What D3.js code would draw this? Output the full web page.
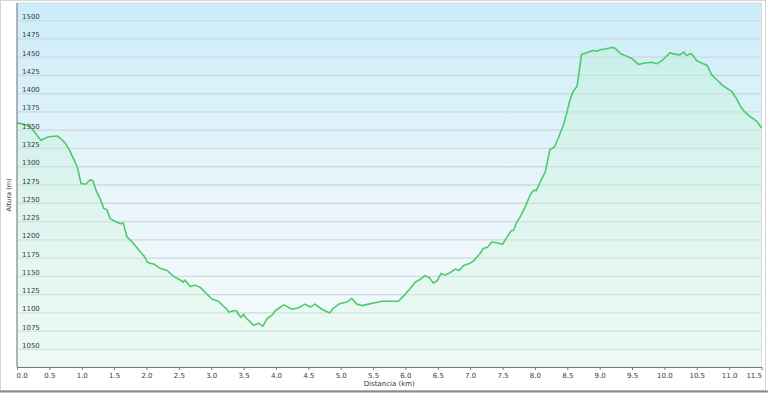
<!DOCTYPE html>
<html>
<head>
<meta charset="utf-8">
<script src="https://cdn.jsdelivr.net/npm/d3@7"></script>
<style>
  html, body { margin: 0; padding: 0; background: #fff; }
  #chart { width: 768px; height: 394px; }
  text { font-family: "DejaVu Sans", Verdana, sans-serif; }
</style>
</head>
<body>
<div id="chart"></div>
<script>
// perfil: distancia (km) / altura (m)
const distKm = [
  0.00, 0.15, 0.21, 0.26, 0.31, 0.37, 0.41, 0.49, 0.62, 0.67, 0.75, 0.82, 0.93, 0.99,
  1.06, 1.13, 1.17, 1.22, 1.29, 1.34, 1.39, 1.44, 1.52, 1.60, 1.64, 1.70, 1.80, 1.90,
  1.97, 2.01, 2.05, 2.11, 2.21, 2.32, 2.42, 2.52, 2.57, 2.59, 2.68, 2.75, 2.83, 3.01,
  3.11, 3.24, 3.27, 3.34, 3.39, 3.42, 3.46, 3.50, 3.55, 3.60, 3.65, 3.73, 3.80, 3.86,
  3.94, 3.99, 4.12, 4.25, 4.35, 4.45, 4.53, 4.60, 4.71, 4.83, 4.88, 4.99, 5.10, 5.17,
  5.25, 5.33, 5.43, 5.53, 5.64, 5.89, 5.97, 6.07, 6.15, 6.23, 6.30, 6.37, 6.43, 6.49,
  6.55, 6.61, 6.69, 6.77, 6.83, 6.90, 7.00, 7.05, 7.15, 7.20, 7.27, 7.33, 7.41, 7.50,
  7.57, 7.63, 7.67, 7.72, 7.77, 7.85, 7.93, 7.98, 8.02, 8.08, 8.16, 8.23, 8.30, 8.36,
  8.44, 8.49, 8.54, 8.59, 8.65, 8.68, 8.72, 8.77, 8.83, 8.90, 8.96, 9.01, 9.08, 9.19,
  9.24, 9.32, 9.42, 9.50, 9.60, 9.70, 9.80, 9.88, 9.96, 10.09, 10.16, 10.24, 10.30,
  10.34, 10.41, 10.45, 10.50, 10.60, 10.66, 10.73, 10.81, 10.89, 10.97, 11.04, 11.11,
  11.18, 11.24, 11.32, 11.43, 11.50
];
const alturaM = [
  1360, 1357, 1354, 1349, 1343, 1336, 1338, 1341, 1342, 1339, 1332, 1321, 1300, 1277,
  1276, 1282, 1281, 1268, 1255, 1243, 1241, 1229, 1225, 1222, 1223, 1204, 1195, 1184,
  1177, 1170, 1168, 1167, 1161, 1158, 1150, 1145, 1142, 1145, 1136, 1138, 1135, 1119,
  1116, 1105, 1101, 1103, 1103, 1098, 1094, 1098, 1092, 1088, 1083, 1086, 1082, 1092,
  1097, 1103, 1111, 1105, 1107, 1112, 1108, 1112, 1105, 1100, 1106, 1113, 1115, 1120,
  1112, 1110, 1112, 1114, 1116, 1116, 1123, 1133, 1142, 1146, 1151, 1148, 1141, 1144,
  1154, 1152, 1155, 1160, 1158, 1165, 1168, 1171, 1181, 1188, 1190, 1197, 1196, 1194,
  1204, 1212, 1213, 1224, 1231, 1245, 1262, 1268, 1267, 1279, 1293, 1323, 1327, 1339,
  1357, 1373, 1391, 1403, 1410, 1428, 1454, 1455, 1457, 1459, 1458, 1460, 1461, 1463,
  1462, 1455, 1451, 1448, 1440, 1442, 1443, 1441, 1445, 1456, 1454, 1453, 1457,
  1452, 1455, 1451, 1445, 1441, 1439, 1426, 1419, 1412, 1407, 1403, 1394,
  1382, 1375, 1369, 1362, 1353
];
const yTicks = [1050, 1075, 1100, 1125, 1150, 1175, 1200, 1225, 1250, 1275, 1300,
  1325, 1350, 1375, 1400, 1425, 1450, 1475, 1500];
const xTicks = [0, 0.5, 1, 1.5, 2, 2.5, 3, 3.5, 4, 4.5, 5, 5.5, 6, 6.5, 7, 7.5, 8,
  8.5, 9, 9.5, 10, 10.5, 11, 11.5];

const W = 768, H = 394;
const plot = { left: 17, right: 761.5, top: 3, bottom: 367 };

const data = distKm.map((d, i) => ({ km: d, m: alturaM[i] }));

const svg = d3.select("#chart").append("svg")
  .attr("width", W).attr("height", H);

const defs = svg.append("defs");
const bg = defs.append("linearGradient").attr("id", "bg")
  .attr("x1", 0).attr("y1", 0).attr("x2", 0).attr("y2", 1);
bg.append("stop").attr("offset", "0%").attr("stop-color", "#cbedf9");
bg.append("stop").attr("offset", "55%").attr("stop-color", "#eaf6fb");
bg.append("stop").attr("offset", "100%").attr("stop-color", "#f7fbfc");

const fillG = defs.append("linearGradient").attr("id", "areaFill")
  .attr("x1", 0).attr("y1", 0).attr("x2", 0).attr("y2", 1);
fillG.append("stop").attr("offset", "0%").attr("stop-color", "#bdf0d3").attr("stop-opacity", 0.4);
fillG.append("stop").attr("offset", "100%").attr("stop-color", "#dbf7e5").attr("stop-opacity", 0.35);

// marco exterior
svg.append("rect")
  .attr("x", 0.5).attr("y", 0.5).attr("width", W - 3).attr("height", H - 4)
  .attr("fill", "#fff").attr("stroke", "#d4d4d4");
svg.append("line")
  .attr("x1", 0).attr("x2", W).attr("y1", H - 2.5).attr("y2", H - 2.5)
  .attr("stroke", "#8a8a8a").attr("stroke-width", 2);

const x = d3.scaleLinear().domain([0, 11.5]).range([plot.left, plot.right]);
const y = d3.scaleLinear().domain([1026, 1524]).range([plot.bottom, plot.top]);

svg.append("rect")
  .attr("x", plot.left).attr("y", plot.top)
  .attr("width", plot.right - plot.left).attr("height", plot.bottom - plot.top)
  .attr("fill", "url(#bg)").attr("stroke", "#d8dde0");

// rejilla
svg.append("g").selectAll("line")
  .data(yTicks).enter().append("line")
  .attr("x1", plot.left).attr("x2", plot.right)
  .attr("y1", (d) => y(d)).attr("y2", (d) => y(d))
  .attr("stroke", "#cfd8dc").attr("stroke-width", 1.3);

const area = d3.area()
  .x((d) => x(d.km)).y0(plot.bottom).y1((d) => y(d.m));
const line = d3.line()
  .x((d) => x(d.km)).y((d) => y(d.m));

svg.append("path").datum(data)
  .attr("d", area).attr("fill", "url(#areaFill)");

svg.append("path").datum(data)
  .attr("d", line)
  .attr("fill", "none")
  .attr("stroke", "#4ccb6c")
  .attr("stroke-width", 1.6)
  .attr("stroke-linejoin", "round");

// etiquetas eje Y dentro del grafico
svg.append("g").selectAll("text")
  .data(yTicks).enter().append("text")
  .attr("x", plot.left + 5)
  .attr("y", (d) => y(d) - 1.5)
  .style("font-size", "7px")
  .style("fill", "#3a3a3a")
  .text((d) => d);

// ejes
const xAxis = svg.append("g")
  .attr("transform", `translate(0,${plot.bottom})`)
  .call(d3.axisBottom(x).tickValues(xTicks).tickSize(3).tickSizeOuter(0)
    .tickFormat(d3.format(".1f")));
xAxis.select(".domain").attr("stroke", "#7a7a7a");
xAxis.selectAll(".tick line").attr("stroke", "#7a7a7a");
xAxis.selectAll("text")
  .attr("y", 6)
  .style("font-size", "7px")
  .style("fill", "#3a3a3a")
  .attr("text-anchor", (d, i) => (i === 0 ? "start" : i === xTicks.length - 1 ? "end" : "middle"))
  .attr("dx", (d, i) => (i === 0 ? -1 : 0));

svg.append("line")
  .attr("x1", plot.left).attr("x2", plot.left)
  .attr("y1", plot.top).attr("y2", plot.bottom)
  .attr("stroke", "#7a7a7a");

svg.append("text")
  .attr("x", (plot.left + plot.right) / 2)
  .attr("y", 386)
  .attr("text-anchor", "middle")
  .style("font-size", "7px")
  .style("fill", "#3a3a3a")
  .text("Distancia  (km)");

svg.append("text")
  .attr("transform", `translate(11,${(plot.top + plot.bottom) / 2 + 10}) rotate(-90)`)
  .attr("text-anchor", "middle")
  .style("font-size", "6.5px")
  .style("fill", "#3a3a3a")
  .text("Altura (m)");
</script>
</body>
</html>
